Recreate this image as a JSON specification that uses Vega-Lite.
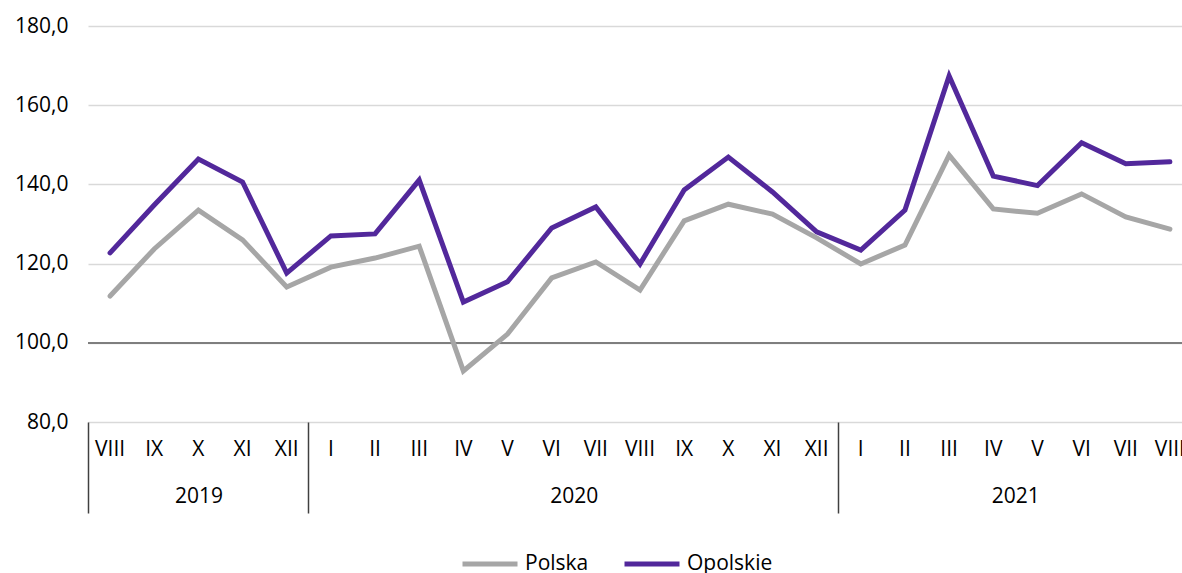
{
  "$schema": "https://vega.github.io/schema/vega-lite/v6.json",
  "autosize": {"type": "none"},
  "padding": {"left": 88, "top": 26, "right": 0, "bottom": 151},
  "width": 1104,
  "height": 396,
  "background": "white",
  "config": {"view": {"stroke": null}, "font": "Open Sans"},
  "datasets": {
    "series": [
      {"key": "2019-08", "series": "Polska", "v": 111.8},
      {"key": "2019-09", "series": "Polska", "v": 123.7},
      {"key": "2019-10", "series": "Polska", "v": 133.5},
      {"key": "2019-11", "series": "Polska", "v": 126.0},
      {"key": "2019-12", "series": "Polska", "v": 114.1},
      {"key": "2020-01", "series": "Polska", "v": 119.1},
      {"key": "2020-02", "series": "Polska", "v": 121.4},
      {"key": "2020-03", "series": "Polska", "v": 124.4},
      {"key": "2020-04", "series": "Polska", "v": 92.9},
      {"key": "2020-05", "series": "Polska", "v": 102.2},
      {"key": "2020-06", "series": "Polska", "v": 116.4},
      {"key": "2020-07", "series": "Polska", "v": 120.4},
      {"key": "2020-08", "series": "Polska", "v": 113.3},
      {"key": "2020-09", "series": "Polska", "v": 130.8},
      {"key": "2020-10", "series": "Polska", "v": 135.0},
      {"key": "2020-11", "series": "Polska", "v": 132.5},
      {"key": "2020-12", "series": "Polska", "v": 126.5},
      {"key": "2021-01", "series": "Polska", "v": 119.9},
      {"key": "2021-02", "series": "Polska", "v": 124.7},
      {"key": "2021-03", "series": "Polska", "v": 147.4},
      {"key": "2021-04", "series": "Polska", "v": 133.8},
      {"key": "2021-05", "series": "Polska", "v": 132.7},
      {"key": "2021-06", "series": "Polska", "v": 137.6},
      {"key": "2021-07", "series": "Polska", "v": 131.8},
      {"key": "2021-08", "series": "Polska", "v": 128.7},
      {"key": "2019-08", "series": "Opolskie", "v": 122.7},
      {"key": "2019-09", "series": "Opolskie", "v": 134.8},
      {"key": "2019-10", "series": "Opolskie", "v": 146.4},
      {"key": "2019-11", "series": "Opolskie", "v": 140.6},
      {"key": "2019-12", "series": "Opolskie", "v": 117.6},
      {"key": "2020-01", "series": "Opolskie", "v": 127.0},
      {"key": "2020-02", "series": "Opolskie", "v": 127.5},
      {"key": "2020-03", "series": "Opolskie", "v": 141.1},
      {"key": "2020-04", "series": "Opolskie", "v": 110.3},
      {"key": "2020-05", "series": "Opolskie", "v": 115.4},
      {"key": "2020-06", "series": "Opolskie", "v": 129.0},
      {"key": "2020-07", "series": "Opolskie", "v": 134.3},
      {"key": "2020-08", "series": "Opolskie", "v": 119.9},
      {"key": "2020-09", "series": "Opolskie", "v": 138.6},
      {"key": "2020-10", "series": "Opolskie", "v": 146.9},
      {"key": "2020-11", "series": "Opolskie", "v": 138.1},
      {"key": "2020-12", "series": "Opolskie", "v": 128.0},
      {"key": "2021-01", "series": "Opolskie", "v": 123.4},
      {"key": "2021-02", "series": "Opolskie", "v": 133.5},
      {"key": "2021-03", "series": "Opolskie", "v": 167.4},
      {"key": "2021-04", "series": "Opolskie", "v": 142.1},
      {"key": "2021-05", "series": "Opolskie", "v": 139.7},
      {"key": "2021-06", "series": "Opolskie", "v": 150.5},
      {"key": "2021-07", "series": "Opolskie", "v": 145.2},
      {"key": "2021-08", "series": "Opolskie", "v": 145.7}
    ],
    "years": [
      {"year": "2019", "mid": 2.5},
      {"year": "2020", "mid": 11},
      {"year": "2021", "mid": 21}
    ]
  },
  "resolve": {"scale": {"x": "independent"}},
  "layer": [
    {
      "data": {"name": "series"},
      "layer": [
        {
          "mark": {"type": "rule", "color": "#7f7f7f", "strokeWidth": 1.5},
          "encoding": {"y": {"datum": 100, "type": "quantitative"}}
        },
        {
          "mark": {"type": "line", "strokeWidth": 5, "strokeJoin": "miter", "strokeCap": "round"},
          "encoding": {
            "x": {
              "field": "key",
              "type": "ordinal",
              "scale": {"type": "band", "paddingInner": 0, "paddingOuter": 0},
              "axis": {
                "title": null,
                "domain": false,
                "grid": false,
                "bandPosition": 0,
                "labelAngle": 0,
                "labelFontSize": 21,
                "labelColor": "#000000",
                "labelPadding": -75,
                "labelExpr": "['I','II','III','IV','V','VI','VII','VIII','IX','X','XI','XII'][toNumber(slice(datum.value,5))-1]",
                "tickSize": 91,
                "tickColor": "#404040",
                "tickWidth": 1.5,
                "tickOpacity": {"condition": {"test": "slice(datum.value,5)=='01' || datum.value=='2019-08'", "value": 1}, "value": 0}
              }
            },
            "y": {
              "field": "v",
              "type": "quantitative",
              "scale": {"domain": [80, 180], "nice": false, "zero": false},
              "axis": {
                "title": null,
                "grid": true,
                "values": [80, 100, 120, 140, 160, 180],
                "labelExpr": "replace(format(datum.value, '.1f'), '.', ',')",
                "labelFontSize": 21,
                "labelColor": "#000000",
                "labelPadding": 20,
                "ticks": false,
                "domain": false,
                "gridColor": "#d9d9d9",
                "gridWidth": 1.5,
                "gridOpacity": 1
              }
            },
            "color": {
              "field": "series",
              "type": "nominal",
              "scale": {"domain": ["Polska", "Opolskie"], "range": ["#a6a6a6", "#52289b"]},
              "legend": {
                "title": null,
                "orient": "none",
                "legendX": 372,
                "legendY": 508,
                "direction": "horizontal",
                "symbolType": "stroke",
                "symbolSize": 3025,
                "symbolStrokeWidth": 5,
                "labelFontSize": 21,
                "labelColor": "#000000",
                "labelOffset": 5,
                "columnPadding": 25
              }
            }
          }
        }
      ]
    },
    {
      "data": {"name": "years"},
      "mark": {"type": "point", "opacity": 0},
      "encoding": {
        "x": {
          "field": "mid",
          "type": "quantitative",
          "scale": {"domain": [0, 25], "nice": false, "zero": false},
          "axis": {
            "orient": "bottom",
            "title": null,
            "values": [2.5, 11, 21],
            "labelExpr": "datum.value == 2.5 ? '2019' : datum.value == 11 ? '2020' : '2021'",
            "domain": false,
            "ticks": false,
            "grid": false,
            "labelFontSize": 21,
            "labelColor": "#000000",
            "labelPadding": 63,
            "labelFlush": false,
            "labelOverlap": false
          }
        }
      }
    }
  ]
}
